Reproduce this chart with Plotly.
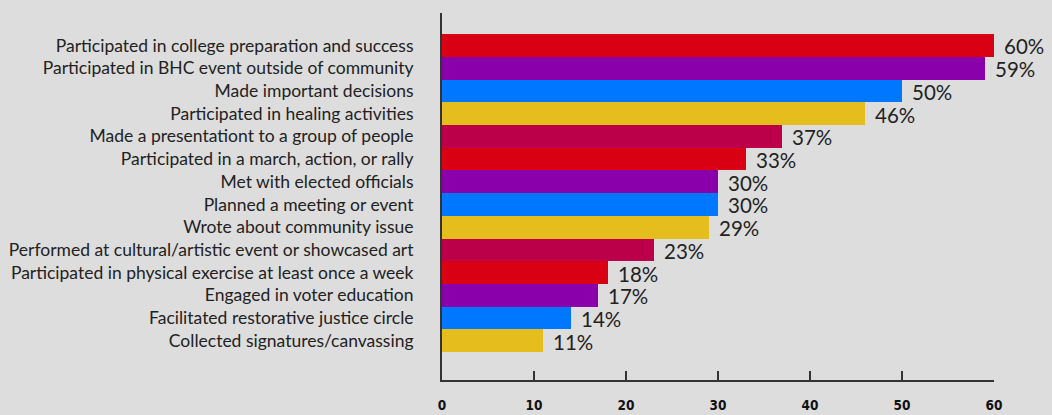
import plotly.graph_objects as go

categories = [
    "Participated in college preparation and success",
    "Participated in BHC event outside of community",
    "Made important decisions",
    "Participated in healing activities",
    "Made a presentationt to a group of people",
    "Participated in a march, action, or rally",
    "Met with elected officials",
    "Planned a meeting or event",
    "Wrote about community issue",
    "Performed at cultural/artistic event or showcased art",
    "Participated in physical exercise at least once a week",
    "Engaged in voter education",
    "Facilitated restorative justice circle",
    "Collected signatures/canvassing",
]
values = [60, 59, 50, 46, 37, 33, 30, 30, 29, 23, 18, 17, 14, 11]
palette = ["#d90014", "#8a00aa", "#0077ff", "#e5bd1d", "#bb0049"]
colors = [palette[i % 5] for i in range(len(values))]
tick_vals = [0, 10, 20, 30, 40, 50, 60]

fig = go.Figure()
fig.add_trace(go.Bar(
    y=categories, x=values, orientation="h",
    marker=dict(color=colors, line=dict(width=0)),
    width=1.0,
    hoverinfo="skip",
))
for c, v in zip(categories, values):
    fig.add_annotation(x=v, y=c, text=f"{v}%", showarrow=False,
                       xanchor="left", xshift=8, yshift=-1,
                       font=dict(family="Lato", size=20.5, color="#222222"))

fig.update_layout(
    width=1052, height=415,
    margin=dict(l=442, r=58, t=13, b=35),
    paper_bgcolor="#dddddd", plot_bgcolor="#dddddd",
    bargap=0, showlegend=False,
    font=dict(family="Lato", color="#222222"),
)
fig.update_yaxes(
    categoryorder="array", categoryarray=categories,
    range=[14.73, -1.43], automargin=False,
    showline=True, linecolor="#333333", linewidth=2,
    showgrid=False, zeroline=False, ticks="",
    ticklabelstandoff=23,
    tickfont=dict(family="Lato", size=17.5, color="#222222"),
)
fig.update_xaxes(
    range=[0, 60], tickvals=tick_vals, automargin=False,
    showline=True, linecolor="#333333", linewidth=2,
    ticks="inside", ticklen=9, tickwidth=1.5, tickcolor="#333333",
    showgrid=False, zeroline=False,
    ticklabelstandoff=12,
    tickfont=dict(family="DejaVu Sans Condensed", size=13.5, color="#111111", weight="bold"),
)
fig.write_html("out.html")
